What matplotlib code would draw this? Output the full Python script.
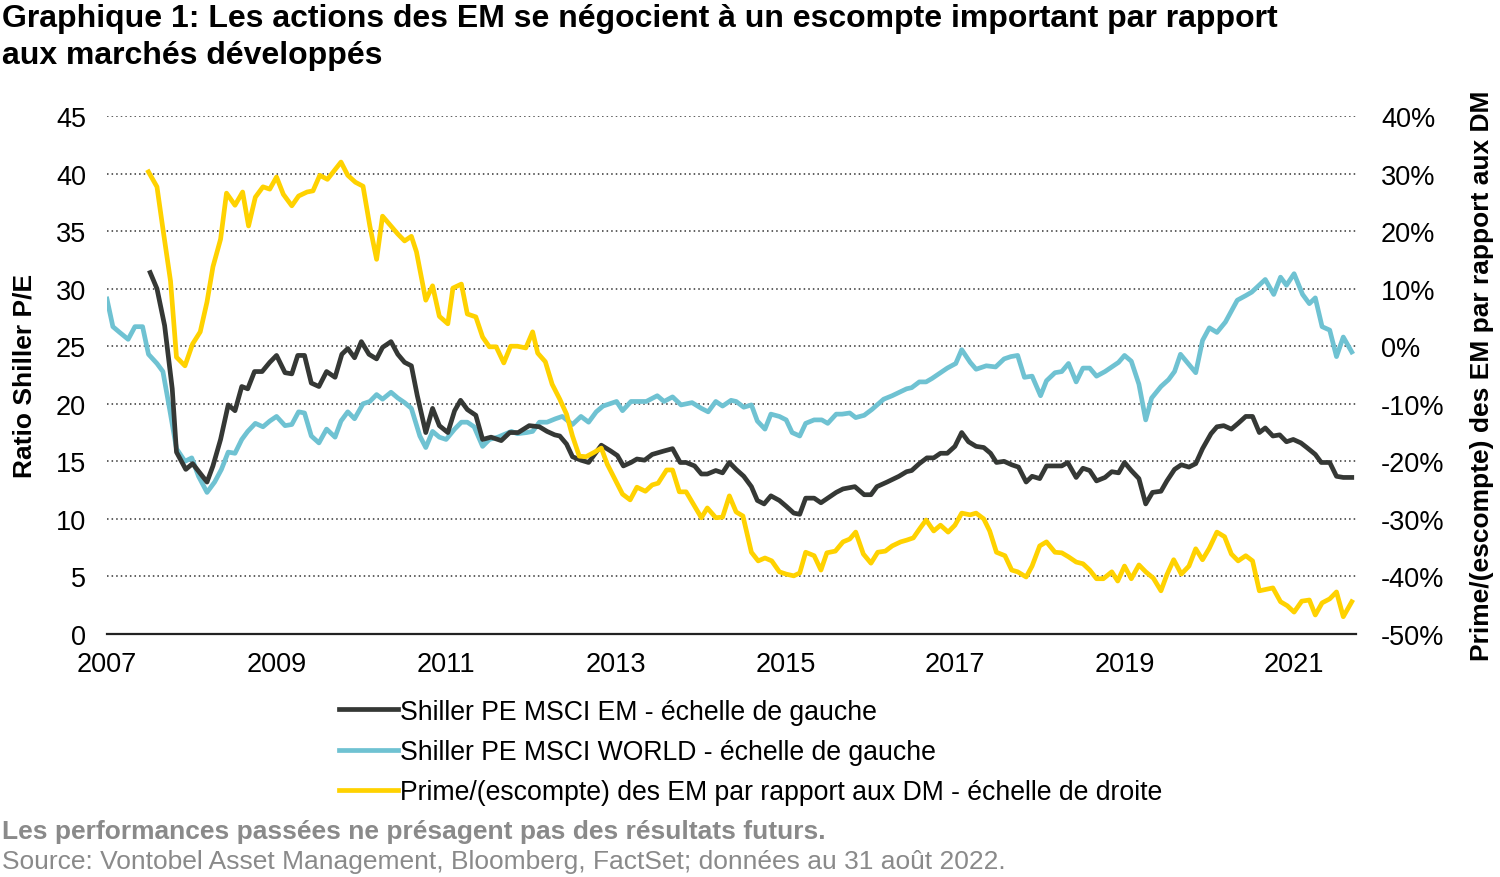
import numpy as np
import matplotlib
matplotlib.use("Agg")
import matplotlib.pyplot as plt
from matplotlib.ticker import FuncFormatter

plt.rcParams.update({
    "font.family": ["Liberation Sans", "DejaVu Sans"],
    "font.size": 19,
})

# --- data (year fraction, value) ---
world_t = [2007.00, 2007.07, 2007.15, 2007.25, 2007.33, 2007.42, 2007.49, 2007.59, 2007.66, 2007.74,
           2007.82, 2007.92, 2008.00, 2008.08, 2008.18, 2008.27, 2008.35, 2008.43, 2008.51, 2008.59,
           2008.66, 2008.75, 2008.84, 2008.92, 2009.00, 2009.10, 2009.18, 2009.26, 2009.33, 2009.41,
           2009.50, 2009.59, 2009.69, 2009.76, 2009.84, 2009.92, 2010.02, 2010.10, 2010.18, 2010.25,
           2010.35, 2010.43, 2010.51, 2010.59, 2010.69, 2010.76, 2010.84, 2010.92, 2011.00, 2011.10,
           2011.18, 2011.25, 2011.33, 2011.43, 2011.51, 2011.61, 2011.77, 2011.84, 2011.95, 2012.02,
           2012.10, 2012.19, 2012.29, 2012.37, 2012.49, 2012.59, 2012.68, 2012.77, 2012.85, 2013.01,
           2013.08, 2013.18, 2013.25, 2013.36, 2013.49, 2013.57, 2013.67, 2013.77, 2013.90, 2014.01,
           2014.09, 2014.18, 2014.26, 2014.36, 2014.42, 2014.51, 2014.60, 2014.67, 2014.76, 2014.83,
           2014.93, 2015.01, 2015.08, 2015.17, 2015.24, 2015.34, 2015.43, 2015.50, 2015.60, 2015.67,
           2015.76, 2015.83, 2015.93, 2016.02, 2016.16, 2016.26, 2016.43, 2016.49, 2016.58, 2016.66,
           2016.73, 2016.91, 2017.01, 2017.08, 2017.18, 2017.25, 2017.37, 2017.48, 2017.58, 2017.66,
           2017.74, 2017.82, 2017.91, 2018.01, 2018.08, 2018.18, 2018.26, 2018.34, 2018.43, 2018.51,
           2018.59, 2018.67, 2018.77, 2018.85, 2018.93, 2019.00, 2019.08, 2019.17, 2019.25, 2019.32,
           2019.43, 2019.52, 2019.59, 2019.66, 2019.84, 2019.92, 2020.00, 2020.09, 2020.19, 2020.33,
           2020.43, 2020.50, 2020.66, 2020.76, 2020.84, 2020.91, 2021.00, 2021.10, 2021.18, 2021.25,
           2021.33, 2021.42, 2021.50, 2021.58, 2021.68]
world_v = [29.1, 26.7, 26.2, 25.6, 26.7, 26.7, 24.3, 23.5, 22.8, 19.5,
           16.1, 15.0, 15.3, 13.7, 12.3, 13.2, 14.3, 15.8, 15.7, 16.9,
           17.6, 18.3, 18.0, 18.5, 18.9, 18.1, 18.2, 19.3, 19.2, 17.2,
           16.6, 17.8, 17.1, 18.5, 19.3, 18.7, 20.0, 20.2, 20.8, 20.4,
           21.0, 20.5, 20.1, 19.6, 17.2, 16.2, 17.6, 17.1, 16.9, 17.8,
           18.4, 18.4, 18.0, 16.3, 16.9, 17.1, 17.6, 17.4, 17.5, 17.6,
           18.4, 18.4, 18.7, 18.9, 18.2, 18.9, 18.4, 19.3, 19.8, 20.2,
           19.4, 20.2, 20.2, 20.2, 20.7, 20.2, 20.6, 19.9, 20.1, 19.6,
           19.3, 20.2, 19.8, 20.3, 20.2, 19.7, 19.9, 18.5, 17.8, 19.1,
           18.9, 18.6, 17.5, 17.2, 18.3, 18.6, 18.6, 18.3, 19.1, 19.1,
           19.2, 18.8, 19.0, 19.5, 20.4, 20.7, 21.3, 21.4, 21.9, 21.9,
           22.2, 23.1, 23.5, 24.7, 23.6, 23.0, 23.3, 23.2, 23.9, 24.1,
           24.2, 22.3, 22.4, 20.7, 22.0, 22.7, 22.8, 23.5, 21.9, 23.1,
           23.1, 22.4, 22.8, 23.2, 23.6, 24.2, 23.7, 21.7, 18.6, 20.5,
           21.5, 22.1, 22.8, 24.3, 22.7, 25.5, 26.6, 26.2, 27.1, 29.0,
           29.4, 29.7, 30.8, 29.5, 31.0, 30.3, 31.3, 29.5, 28.7, 29.2,
           26.7, 26.4, 24.1, 25.8, 24.5]

em_t = [2007.51, 2007.59, 2007.68, 2007.77, 2007.82, 2007.93, 2008.01, 2008.18, 2008.25, 2008.34,
        2008.43, 2008.51, 2008.59, 2008.66, 2008.74, 2008.83, 2008.92, 2009.00, 2009.10, 2009.18,
        2009.25, 2009.33, 2009.41, 2009.50, 2009.59, 2009.69, 2009.77, 2009.84, 2009.92, 2010.00,
        2010.09, 2010.18, 2010.25, 2010.35, 2010.43, 2010.51, 2010.59, 2010.66, 2010.76, 2010.84,
        2010.92, 2011.02, 2011.10, 2011.17, 2011.25, 2011.35, 2011.43, 2011.53, 2011.65, 2011.75,
        2011.85, 2011.98, 2012.10, 2012.19, 2012.28, 2012.34, 2012.42, 2012.49, 2012.59, 2012.68,
        2012.77, 2012.83, 2012.94, 2013.02, 2013.09, 2013.18, 2013.25, 2013.34, 2013.43, 2013.57,
        2013.67, 2013.76, 2013.83, 2013.93, 2014.01, 2014.08, 2014.18, 2014.26, 2014.34, 2014.42,
        2014.51, 2014.60, 2014.67, 2014.75, 2014.83, 2014.93, 2015.01, 2015.10, 2015.17, 2015.24,
        2015.34, 2015.42, 2015.52, 2015.60, 2015.68, 2015.82, 2015.93, 2016.01, 2016.08, 2016.20,
        2016.34, 2016.43, 2016.49, 2016.58, 2016.67, 2016.75, 2016.83, 2016.91, 2017.00, 2017.08,
        2017.16, 2017.25, 2017.34, 2017.42, 2017.49, 2017.58, 2017.67, 2017.75, 2017.84, 2017.91,
        2018.00, 2018.08, 2018.18, 2018.26, 2018.33, 2018.43, 2018.51, 2018.59, 2018.67, 2018.77,
        2018.85, 2018.93, 2019.00, 2019.08, 2019.17, 2019.25, 2019.33, 2019.43, 2019.50, 2019.59,
        2019.67, 2019.76, 2019.84, 2019.92, 2020.02, 2020.09, 2020.17, 2020.26, 2020.34, 2020.43,
        2020.51, 2020.59, 2020.66, 2020.75, 2020.83, 2020.91, 2020.99, 2021.08, 2021.15, 2021.25,
        2021.32, 2021.42, 2021.50, 2021.58, 2021.68]
em_v = [31.4, 30.0, 26.8, 21.3, 15.8, 14.3, 14.8, 13.2, 14.6, 16.9,
        19.9, 19.4, 21.5, 21.3, 22.8, 22.8, 23.6, 24.2, 22.7, 22.6,
        24.2, 24.2, 21.8, 21.5, 22.8, 22.3, 24.3, 24.8, 24.0, 25.4,
        24.3, 23.9, 24.9, 25.4, 24.3, 23.6, 23.3, 20.7, 17.5, 19.6,
        18.1, 17.5, 19.4, 20.3, 19.5, 19.0, 16.9, 17.1, 16.8, 17.5,
        17.5, 18.1, 18.0, 17.6, 17.3, 17.2, 16.5, 15.4, 15.1, 14.9,
        15.8, 16.4, 15.9, 15.5, 14.6, 14.9, 15.2, 15.1, 15.6, 15.9,
        16.1, 14.9, 14.9, 14.6, 13.9, 13.9, 14.2, 14.0, 14.9, 14.3,
        13.7, 12.8, 11.6, 11.3, 12.0, 11.6, 11.1, 10.5, 10.4, 11.8,
        11.8, 11.4, 11.9, 12.3, 12.6, 12.8, 12.1, 12.1, 12.8, 13.2,
        13.7, 14.1, 14.2, 14.8, 15.3, 15.3, 15.7, 15.7, 16.3, 17.5,
        16.7, 16.3, 16.2, 15.7, 14.9, 15.0, 14.7, 14.5, 13.2, 13.7,
        13.5, 14.6, 14.6, 14.6, 14.9, 13.6, 14.4, 14.2, 13.3, 13.6,
        14.1, 14.0, 14.9, 14.2, 13.5, 11.3, 12.3, 12.4, 13.3, 14.3,
        14.7, 14.5, 14.8, 16.1, 17.4, 18.0, 18.1, 17.8, 18.3, 18.9,
        18.9, 17.5, 17.9, 17.2, 17.3, 16.7, 16.9, 16.6, 16.2, 15.6,
        14.9, 14.9, 13.7, 13.6, 13.6]

prem_t = [2007.49, 2007.59, 2007.66, 2007.75, 2007.82, 2007.92, 2008.01, 2008.10, 2008.18, 2008.25,
          2008.34, 2008.41, 2008.51, 2008.60, 2008.67, 2008.75, 2008.84, 2008.92, 2009.00, 2009.08,
          2009.18, 2009.26, 2009.36, 2009.43, 2009.51, 2009.60, 2009.76, 2009.84, 2009.93, 2010.02,
          2010.10, 2010.18, 2010.25, 2010.36, 2010.43, 2010.51, 2010.59, 2010.65, 2010.76, 2010.84,
          2010.92, 2011.02, 2011.08, 2011.18, 2011.25, 2011.35, 2011.43, 2011.51, 2011.59, 2011.68,
          2011.76, 2011.84, 2011.94, 2012.02, 2012.08, 2012.17, 2012.25, 2012.34, 2012.42, 2012.49,
          2012.57, 2012.65, 2012.75, 2012.83, 2012.90, 2013.00, 2013.08, 2013.17, 2013.25, 2013.35,
          2013.43, 2013.50, 2013.60, 2013.67, 2013.75, 2013.83, 2013.93, 2014.01, 2014.08, 2014.18,
          2014.26, 2014.34, 2014.42, 2014.50, 2014.60, 2014.68, 2014.76, 2014.84, 2014.93, 2015.01,
          2015.10, 2015.17, 2015.24, 2015.34, 2015.42, 2015.49, 2015.59, 2015.68, 2015.76, 2015.83,
          2015.92, 2016.01, 2016.09, 2016.18, 2016.26, 2016.36, 2016.43, 2016.51, 2016.59, 2016.66,
          2016.75, 2016.83, 2016.92, 2017.00, 2017.08, 2017.18, 2017.25, 2017.34, 2017.41, 2017.49,
          2017.59, 2017.67, 2017.74, 2017.84, 2017.91, 2018.00, 2018.08, 2018.18, 2018.26, 2018.34,
          2018.43, 2018.51, 2018.59, 2018.67, 2018.75, 2018.85, 2018.92, 2019.00, 2019.08, 2019.17,
          2019.25, 2019.34, 2019.43, 2019.50, 2019.58, 2019.67, 2019.76, 2019.84, 2019.92, 2020.00,
          2020.09, 2020.18, 2020.26, 2020.34, 2020.43, 2020.51, 2020.59, 2020.75, 2020.84, 2020.92,
          2021.00, 2021.09, 2021.18, 2021.25, 2021.33, 2021.42, 2021.50, 2021.58, 2021.68]
prem_v = [30.3, 27.7, 20.4, 11.3, -1.9, -3.4, 0.4, 2.5, 7.7, 13.8,
          18.6, 26.6, 24.5, 26.8, 20.9, 25.9, 27.7, 27.3, 29.4, 26.4,
          24.4, 26.1, 26.8, 27.0, 29.7, 29.0, 32.0, 29.7, 28.5, 27.8,
          20.9, 15.1, 22.6, 20.7, 19.5, 18.3, 19.1, 16.4, 8.0, 10.5,
          5.2, 3.9, 10.1, 10.8, 5.6, 5.1, 1.6, -0.1, -0.1, -2.9,
          0.0, 0.0, -0.3, 2.5, -1.2, -2.7, -6.6, -9.2, -11.8, -15.6,
          -19.1, -19.2, -18.4, -17.7, -20.5, -23.4, -25.7, -26.7, -24.5, -25.2,
          -24.1, -23.8, -21.5, -21.5, -25.3, -25.3, -27.8, -29.8, -28.1, -29.8,
          -29.7, -26.0, -28.8, -29.5, -35.8, -37.3, -36.8, -37.3, -39.2, -39.6,
          -39.9, -39.4, -35.8, -36.4, -38.9, -35.9, -35.6, -34.0, -33.5, -32.3,
          -36.1, -37.7, -35.8, -35.6, -34.7, -34.0, -33.7, -33.3, -31.6, -30.2,
          -32.1, -31.1, -32.3, -31.1, -29.0, -29.3, -29.0, -30.0, -32.1, -35.8,
          -36.4, -38.9, -39.2, -40.1, -38.2, -34.7, -34.0, -35.8, -35.9, -36.6,
          -37.5, -37.8, -38.9, -40.4, -40.4, -39.2, -40.8, -38.2, -40.4, -38.0,
          -39.2, -40.3, -42.5, -39.7, -37.1, -39.6, -38.2, -35.2, -37.1, -35.1,
          -32.3, -33.1, -36.1, -37.3, -36.4, -37.3, -42.5, -42.0, -44.4, -45.1,
          -46.2, -44.3, -44.1, -46.7, -44.6, -43.9, -42.7, -47.0, -44.4]

years = [2007, 2009, 2011, 2013, 2015, 2017, 2019, 2021]
left_ticks = list(range(0, 50, 5))
right_ticks = list(range(-50, 50, 10))

labels = ["Shiller PE MSCI EM - échelle de gauche",
          "Shiller PE MSCI WORLD - échelle de gauche",
          "Prime/(escompte) des EM par rapport aux DM - échelle de droite"]

C_EM = "#353835"
C_WORLD = "#6fc2d2"
C_PREM = "#ffd200"
LW = 3.4

fig = plt.figure(figsize=(15, 8.78), dpi=100)
ax = fig.add_axes([0.0713, 0.2768, 0.8327, 0.5899])
ax2 = ax.twinx()

ax.plot(em_t, em_v, color=C_EM, lw=LW, zorder=3, label=labels[0])
ax.plot(world_t, world_v, color=C_WORLD, lw=LW, zorder=2, label=labels[1])
ax2.plot(prem_t, prem_v, color=C_PREM, lw=LW, label=labels[2])

ax.set_xlim(2007, 2021.73)
ax.set_ylim(0, 45)
ax2.set_ylim(-50, 40)
ax.set_yticks(left_ticks)
ax2.set_yticks(right_ticks)
ax2.yaxis.set_major_formatter(FuncFormatter(lambda v, _: f"{v:.0f}%"))
ax.set_xticks(years)

ax.grid(axis="y", linestyle=(0, (1, 2)), color="#333333", linewidth=1.1)
ax.set_axisbelow(True)
for a in (ax, ax2):
    for s in ("top", "left", "right"):
        a.spines[s].set_visible(False)
    a.tick_params(length=0, labelsize=19.5)
ax2.spines["bottom"].set_visible(False)
ax.spines["bottom"].set_color("#222222")
ax.spines["bottom"].set_linewidth(1.6)
ax.tick_params(axis="y", pad=15)
ax.tick_params(axis="x", pad=12)
ax2.tick_params(axis="y", pad=18)

ax.set_ylabel("Ratio Shiller P/E", fontsize=19, fontweight="bold", labelpad=14)
ax2.set_ylabel("Prime/(escompte) des EM par rapport aux DM", fontsize=19,
               fontweight="bold", labelpad=18)

fig.text(0.001, 0.995, "Graphique 1: Les actions des EM se négocient à un escompte important par rapport\naux marchés développés",
         fontsize=23, fontweight="bold", va="top", ha="left", linespacing=1.3)

handles = [ax.lines[0], ax.lines[1], ax2.lines[0]]
fig.legend(handles, labels, loc="upper left", bbox_to_anchor=(0.226, 0.203),
           frameon=False, fontsize=19.2, handlelength=2.2, handletextpad=0.1,
           labelspacing=0.53, borderpad=0, borderaxespad=0)

fig.text(0.001, 0.052, "Les performances passées ne présagent pas des résultats futurs.",
         fontsize=19, fontweight="bold", color="#8a8a8a", ha="left", va="center")
fig.text(0.001, 0.018, "Source: Vontobel Asset Management, Bloomberg, FactSet; données au 31 août 2022.",
         fontsize=19, color="#8a8a8a", ha="left", va="center")

fig.savefig("out.png", dpi=100)
